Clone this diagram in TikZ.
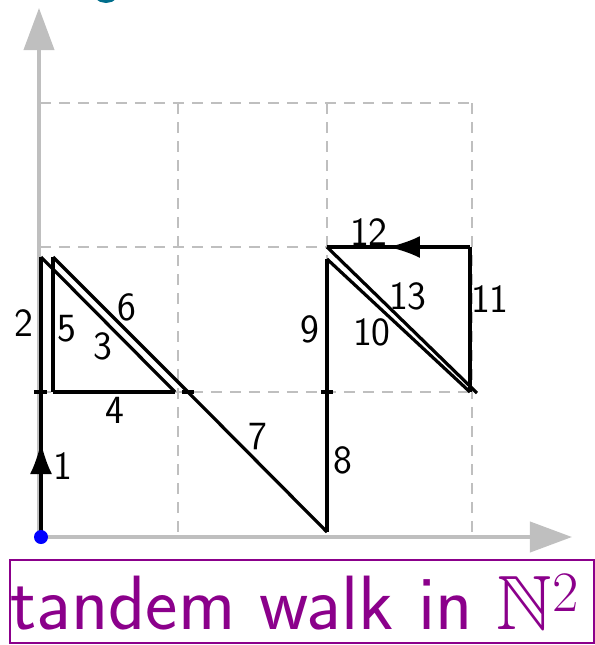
\documentclass[tikz,border=0pt]{standalone}
\usepackage{amsmath, amssymb}
\usetikzlibrary{arrows.meta}
\definecolor{titreViolet}{RGB}{139, 0, 139}
\definecolor{bleuTeal}{RGB}{0, 110, 140}

\begin{document}
\begin{tikzpicture}[x=0.5pt, y=-0.5pt,
    pas/.style={line width=1.6pt, black},
    lab/.style={font=\fontsize{20}{20}\sffamily, inner sep=1pt},
    grille/.style={gray!50, line width=1.4pt, dash pattern=on 5.5pt off 4pt},
    axe/.style={gray!50, line width=2pt, -{Triangle[length=21pt, width=15pt]}},
    fleche/.style={pas, -{Latex[length=16pt, width=11pt]}}]
    \useasboundingbox (0,0) rectangle (595,645);
    \clip (0,0) rectangle (595,645);

    % reste du dessin au-dessus
    \draw[bleuTeal, line width=2pt] (106,-12) circle (13);

    % grille en pointilles
    \foreach \gx in {178,327,472} \draw[grille] (\gx,103) -- (\gx,537);
    \foreach \gy in {103,247,392} \draw[grille] (40,\gy) -- (472,\gy);

    % axes
    \draw[axe] (39,537) -- (39,8);
    \draw[axe] (39,537) -- (572,537);

    % points de la marche
    \coordinate (s0) at (41,537);
    \coordinate (s1) at (41,392);
    \coordinate (m1) at (41,442);
    \coordinate (s2) at (41,257);
    \coordinate (s3) at (175,392);
    \coordinate (s4) at (53,392);
    \coordinate (s5) at (53,257);
    \coordinate (s6) at (188,392);
    \coordinate (s7) at (327,532);
    \coordinate (s8) at (327,392);
    \coordinate (s9) at (327,259);
    \coordinate (s10) at (470,392);
    \coordinate (s11) at (470,247);
    \coordinate (m12) at (388,247);
    \coordinate (s12) at (327,247);
    \coordinate (s13) at (477,393);

    % les pas
    \draw[pas] (s0) -- (s1);
    \draw[fleche] (s0) -- (m1);
    \draw[pas] (s1) -- (s2);
    \draw[pas] (s2) -- (s3);
    \draw[pas] (s3) -- (s4);
    \draw[pas] (s4) -- (s5);
    \draw[pas] (s5) -- (s6);
    \draw[pas] (s6) -- (s7);
    \draw[pas] (s7) -- (s8);
    \draw[pas] (s8) -- (s9);
    \draw[pas] (s9) -- (s10);
    \draw[pas] (s10) -- (s11);
    \draw[pas] (s11) -- (s12);
    \draw[fleche] (s11) -- (m12);
    \draw[pas] (s12) -- (s13);

    % petites marques
    \draw[pas] (34,392) -- (47,392);
    \draw[pas] (182,392) -- (194,392);
    \draw[pas] (321,392) -- (333,392);

    \fill[blue] (s0) circle (7);

    % numeros des pas
    \node[lab] (l1) at (63,466) {1};
    \node[lab] (l2) at (24,323) {2};
    \node[lab] (l3) at (103,346) {3};
    \node[lab] (l4) at (115,410) {4};
    \node[lab] (l5) at (67,329) {5};
    \node[lab] (l6) at (127,307) {6};
    \node[lab] (l7) at (258,437) {7};
    \node[lab] (l8) at (343,460) {8};
    \node[lab] (l9) at (310,329) {9};
    \node[lab] (l10) at (372,332) {10};
    \node[lab] (l11) at (490,299) {11};
    \node[lab] (l12) at (369,232) {12};
    \node[lab] (l13) at (408,296) {13};

    % titre
    \draw[titreViolet, line width=1pt] (10,560) rectangle (594,643);
    \node[text=titreViolet, font=\fontsize{38.5}{38.5}\sffamily] (titre) at (295,602) {tandem walk in $\mathbb{N}^{\scalebox{1.15}{$\scriptstyle 2$}}$};
\end{tikzpicture}
\end{document}
